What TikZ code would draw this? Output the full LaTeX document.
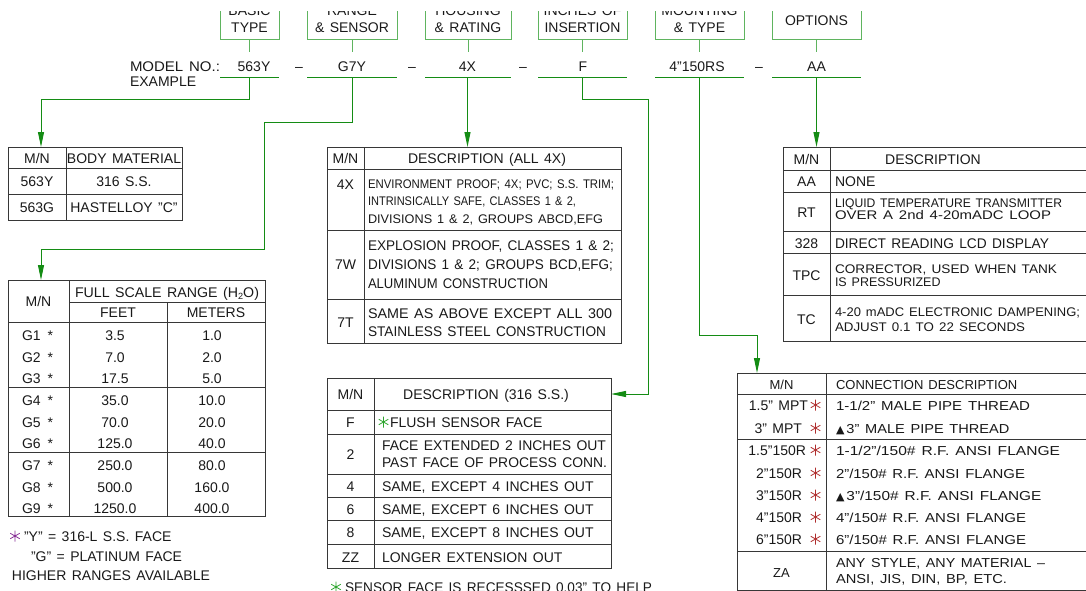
\documentclass[tikz,border=0pt]{standalone}
\usepackage{fontspec}
\setmainfont{Liberation Sans}[WordSpace=1.4]
\newfontfamily\symf{DejaVu Sans}
\usetikzlibrary{arrows.meta}
\definecolor{gdark}{RGB}{20,140,20}
\definecolor{glight}{RGB}{95,180,95}
\definecolor{tline}{RGB}{55,55,55}
\definecolor{txt}{RGB}{25,25,25}
\definecolor{astred}{RGB}{175,45,45}
\definecolor{astpur}{RGB}{135,45,150}
\definecolor{astgrn}{RGB}{45,165,45}
\newcommand\fs[1]{\fontsize{#1}{#1}\selectfont}
\newcommand\fw[2]{\resizebox{#1pt}{\height}{#2}}
\newcommand\tri{{\symf\fs{11}▲}\hspace{2pt}}
\tikzset{
  every node/.style={inner sep=0pt, outer sep=0pt, text=txt, font=\fs{14}},
  cb/.style={anchor=base},
  lb/.style={anchor=base west},
  rb/.style={anchor=base east},
  sm/.style={font=\fs{12.5}},
  md/.style={font=\fs{13}},
  xs/.style={font=\fs{12.5}},
  tbl/.style={draw=tline, line width=1pt},
  hbox/.style={draw=glight, line width=1pt},
  uline/.style={draw=gdark, line width=1pt},
  conn/.style={draw=gdark, line width=1pt, -{Triangle[length=15pt,width=6pt]}},
  ast/.pic={\draw[line width=0.8pt] (0,-5.5)--(0,5.5) (-4.8,-2.75)--(4.8,2.75) (-4.8,2.75)--(4.8,-2.75);}
}
\begin{document}
\begin{tikzpicture}[x=1pt,y=-1pt]
\useasboundingbox (0,0) rectangle (1086,591);
% ---------- header boxes ----------
\begin{scope}
\clip (0,12) rectangle (1086,100);
\draw[hbox] (220,-10) rectangle (279,40);
\draw[hbox] (307,-10) rectangle (397,40);
\draw[hbox] (425,-10) rectangle (511,40);
\draw[hbox] (538,-10) rectangle (627,40);
\draw[hbox] (655,-10) rectangle (744,40);
\draw[hbox] (772,-10) rectangle (861,40);
\node[cb] (h1a) at (249.5,16) {BASIC};
\node[cb] (h1b) at (249.5,33) {TYPE};
\node[cb] (h2a) at (352,16) {RANGE};
\node[cb] (h2b) at (352,33) {\& SENSOR};
\node[cb] (h3a) at (468,16) {HOUSING};
\node[cb] (h3b) at (468,33) {\& RATING};
\node[cb] (h4a) at (582.5,16) {INCHES OF};
\node[cb] (h4b) at (582.5,33) {INSERTION};
\node[cb] (h5a) at (699.5,16) {MOUNTING};
\node[cb] (h5b) at (699.5,33) {\& TYPE};
\node[cb] (h6a) at (816.5,25.5) {OPTIONS};
\end{scope}
\coordinate (hb1) at (249.5,40);
\coordinate (hb2) at (352,40);
\coordinate (hb3) at (468,40);
\coordinate (hb4) at (582.5,40);
\coordinate (hb5) at (699.5,40);
\coordinate (hb6) at (816.5,40);
\foreach \i in {1,...,6} {\draw[hbox] (hb\i) -- ++(0,12);}
% ---------- model number ----------
\node[lb] (mn) at (130,72) {\fw{90}{MODEL NO.:}};
\node[lb] (ex) at (130,87) {EXAMPLE};
\node[cb] (c1) at (254,72) {563Y};
\node[cb] (c2) at (352,72) {G7Y};
\node[cb] (c3) at (467.5,72) {4X};
\node[cb] (c4) at (583,72) {F};
\node[cb] (c5) at (697,72) {4"150RS};
\node[cb] (c6) at (816.5,72) {AA};
\node[cb] (d1) at (299,72) {–};
\node[cb] (d2) at (412,72) {–};
\node[cb] (d3) at (523,72) {–};
\node[cb] (d4) at (759,72) {–};
\draw[uline] (220,78) -- (279,78);
\draw[uline] (307,78) -- (397,78);
\draw[uline] (425,78) -- (511,78);
\draw[uline] (538,78) -- (627,78);
\draw[uline] (655,78) -- (744,78);
\draw[uline] (772,78) -- (861,78);
\coordinate (u1) at (249.5,78);
\coordinate (u2) at (352,78);
\coordinate (u3) at (467.5,78);
\coordinate (u4) at (582.5,78);
\coordinate (u5) at (699.5,78);
\coordinate (u6) at (816.5,78);
% ---------- table arrival points ----------
\coordinate (T1in) at (41,147);
\coordinate (T2in) at (41,280);
\coordinate (T3in) at (467.5,147);
\coordinate (T4in) at (611,394);
\coordinate (T5in) at (816.5,147);
\coordinate (T6in) at (757,373);
% ---------- connectors ----------
\draw[conn] (u1) -- ++(0,22) -| (T1in);
\draw[conn] (u2) -- ++(0,45) -| (264,249) -| (T2in);
\draw[conn] (u3) -- (T3in);
\draw[conn] (u4) -- ++(0,22) -| (648,394) -- (T4in);
\draw[conn] (u5) |- (757,335) -- (T6in);
\draw[conn] (u6) -- (T5in);
% ---------- T1 body material ----------
\draw[tbl] (8,147) rectangle (182,220);
\draw[tbl] (8,168) -- (182,168) (8,194) -- (182,194) (66,147) -- (66,220);
\node[cb] (t1a) at (37,163) {M/N};
\node[cb] (t1b) at (124,163) {BODY MATERIAL};
\node[cb] (t1c) at (37,186) {563Y};
\node[cb] (t1d) at (124,186) {316 S.S.};
\node[cb] (t1e) at (37,212) {563G};
\node[cb] (t1f) at (124,212) {HASTELLOY "C"};
% ---------- T2 range ----------
\draw[tbl] (8,280) rectangle (265,516);
\draw[tbl] (69,280) -- (69,516) (167,302) -- (167,516);
\draw[tbl] (69,302) -- (265,302) (8,322) -- (265,322) (8,387) -- (265,387) (8,452) -- (265,452);
\node[cb] (t2a) at (38.5,306) {M/N};
\node[cb] (t2b) at (167,297) {\fw{184}{FULL SCALE RANGE (H\raisebox{-2pt}{\fs{9}2}O)}};
\node[cb] (t2c) at (118,317) {FEET};
\node[cb] (t2d) at (216,317) {METERS};
\foreach \g/\f/\m/\y in {1/3.5/1.0/340, 2/7.0/2.0/362, 3/17.5/5.0/383, 4/35.0/10.0/405, 5/70.0/20.0/427, 6/125.0/40.0/448, 7/250.0/80.0/470, 8/500.0/160.0/492, 9/1250.0/400.0/513} {
  \node[lb] (g\g) at (22,\y) {G\g\hspace{7pt}*};
  \node[cb] (f\g) at (115,\y) {\f};
  \node[cb] (m\g) at (212,\y) {\m};
}
\pic[astpur] at (15,536) {ast};
\node[lb] (n1) at (24,541) {"Y" = 316-L S.S. FACE};
\node[lb] (n2) at (31,561) {"G" = PLATINUM FACE};
\node[lb] (n3) at (12,580.5) {HIGHER RANGES AVAILABLE};
% ---------- T3 housing ----------
\draw[tbl] (327,147) rectangle (621,343);
\draw[tbl] (364,147) -- (364,343);
\draw[tbl] (327,169) -- (621,169) (327,230) -- (621,230) (327,299) -- (621,299);
\node[cb] (t3a) at (345.5,163) {M/N};
\node[cb] (t3b) at (487,163) {DESCRIPTION (ALL 4X)};
\node[cb] (t3c) at (345.5,189) {4X};
\node[lb,xs] (t3d) at (368,188.5) {\fw{246}{ENVIRONMENT PROOF; 4X; PVC; S.S. TRIM;}};
\node[lb,xs] (t3e) at (368,205) {\fw{208}{INTRINSICALLY SAFE, CLASSES 1 \& 2,}};
\node[lb,xs] (t3f) at (368,223.5) {\fw{235}{DIVISIONS 1 \& 2, GROUPS ABCD,EFG}};
\node[cb] (t3g) at (345.5,269) {7W};
\node[lb] (t3h) at (368,250) {\fw{246}{EXPLOSION PROOF, CLASSES 1 \& 2;}};
\node[lb] (t3i) at (368,269) {\fw{245}{DIVISIONS 1 \& 2; GROUPS BCD,EFG;}};
\node[lb] (t3j) at (368,288) {\fw{180}{ALUMINUM CONSTRUCTION}};
\node[cb] (t3k) at (345.5,327) {7T};
\node[lb] (t3l) at (368,318) {\fw{244}{SAME AS ABOVE EXCEPT ALL 300}};
\node[lb] (t3m) at (368,336) {\fw{238}{STAINLESS STEEL CONSTRUCTION}};
% ---------- T4 insertion ----------
\draw[tbl] (327,378) rectangle (611,568);
\draw[tbl] (374,378) -- (374,568);
\draw[tbl] (327,410) -- (611,410) (327,434) -- (611,434) (327,474) -- (611,474) (327,497) -- (611,497) (327,520) -- (611,520) (327,544) -- (611,544);
\node[cb] (t4a) at (350.5,399) {M/N};
\node[cb] (t4b) at (486,399) {DESCRIPTION (316 S.S.)};
\node[cb] (t4c) at (350.5,427) {F};
\pic[astgrn] at (383.5,422) {ast};
\node[lb] (t4d) at (390,427) {FLUSH SENSOR FACE};
\node[cb] (t4e) at (350.5,459) {2};
\node[lb] (t4f) at (382,450) {\fw{224}{FACE EXTENDED 2 INCHES OUT}};
\node[lb] (t4g) at (382,467) {\fw{225}{PAST FACE OF PROCESS CONN.}};
\node[cb] (t4h) at (350.5,491) {4};
\node[lb] (t4i) at (382,491) {SAME, EXCEPT 4 INCHES OUT};
\node[cb] (t4j) at (350.5,514) {6};
\node[lb] (t4k) at (382,514) {SAME, EXCEPT 6 INCHES OUT};
\node[cb] (t4l) at (350.5,537) {8};
\node[lb] (t4m) at (382,537) {SAME, EXCEPT 8 INCHES OUT};
\node[cb] (t4n) at (350.5,562) {ZZ};
\node[lb] (t4o) at (382,562) {LONGER EXTENSION OUT};
\pic[astgrn] at (336,587) {ast};
\node[lb] (t4p) at (345,592) {\fw{307}{SENSOR FACE IS RECESSSED 0.03" TO HELP}};
% ---------- T5 options ----------
\draw[tbl] (783,147) rectangle (1100,341);
\draw[tbl] (830,147) -- (830,341);
\draw[tbl] (783,170) -- (1100,170) (783,192) -- (1100,192) (783,231) -- (1100,231) (783,253) -- (1100,253) (783,295) -- (1100,295);
\node[cb] (t5a) at (806.5,164) {M/N};
\node[cb] (t5b) at (933,164) {DESCRIPTION};
\node[cb] (t5c) at (806.5,186) {AA};
\node[lb] (t5d) at (835,186) {NONE};
\node[cb] (t5e) at (806.5,217) {RT};
\node[lb,sm] (t5f) at (835,207.5) {\fw{227}{LIQUID TEMPERATURE TRANSMITTER}};
\node[lb,sm] (t5g) at (835,219.5) {\fw{216}{OVER A 2nd 4-20mADC LOOP}};
\node[cb] (t5h) at (806.5,248) {328};
\node[lb] (t5i) at (835,248) {\fw{214}{DIRECT READING LCD DISPLAY}};
\node[cb] (t5j) at (806.5,280) {TPC};
\node[lb,sm] (t5k) at (835,273.5) {\fw{222}{CORRECTOR, USED WHEN TANK}};
\node[lb,sm] (t5l) at (835,286.5) {IS PRESSURIZED};
\node[cb] (t5m) at (806.5,324) {TC};
\node[lb,sm] (t5n) at (835,316.5) {\fw{245}{4-20 mADC ELECTRONIC DAMPENING;}};
\node[lb,sm] (t5o) at (835,331.5) {\fw{190}{ADJUST 0.1 TO 22 SECONDS}};
% ---------- T6 connection ----------
\draw[tbl] (737,373) rectangle (1100,590);
\draw[tbl] (826,373) -- (826,590);
\draw[tbl] (737,394) -- (1100,394) (737,439) -- (1100,439) (737,551) -- (1100,551);
\node[cb,md] (t6a) at (781.5,389) {M/N};
\node[lb,md] (t6b) at (836,389) {CONNECTION DESCRIPTION};
\node[rb] (t6c) at (808,410) {1.5" MPT};
\node[rb] (t6d) at (802,433) {3" MPT};
\node[rb] (t6e) at (806,455) {1.5"150R};
\node[rb] (t6f) at (802,478) {2"150R};
\node[rb] (t6g) at (802,500) {3"150R};
\node[rb] (t6h) at (802,522) {4"150R};
\node[rb] (t6i) at (802,544) {6"150R};
\foreach \yy in {405,428,450,473,495,517,539} {\pic[astred] at (815.5,\yy) {ast};}
\node[lb,md] (t6j) at (836,410) {\fw{194}{1-1/2" MALE PIPE THREAD}};
\node[lb,md] (t6k) at (836,433) {\tri\fw{163}{3" MALE PIPE THREAD}};
\node[lb,md] (t6l) at (836,455) {\fw{224}{1-1/2"/150\# R.F. ANSI FLANGE}};
\node[lb,md] (t6m) at (836,478) {\fw{189}{2"/150\# R.F. ANSI FLANGE}};
\node[lb,md] (t6n) at (836,500) {\tri\fw{195}{3"/150\# R.F. ANSI FLANGE}};
\node[lb,md] (t6o) at (836,522) {\fw{190}{4"/150\# R.F. ANSI FLANGE}};
\node[lb,md] (t6p) at (836,544) {\fw{190}{6"/150\# R.F. ANSI FLANGE}};
\node[cb,md] (t6q) at (781.5,577) {ZA};
\node[lb,md] (t6r) at (836,567.5) {\fw{209}{ANY STYLE, ANY MATERIAL –}};
\node[lb,md] (t6s) at (836,583.5) {\fw{171}{ANSI, JIS, DIN, BP, ETC.}};
\end{tikzpicture}
\end{document}
